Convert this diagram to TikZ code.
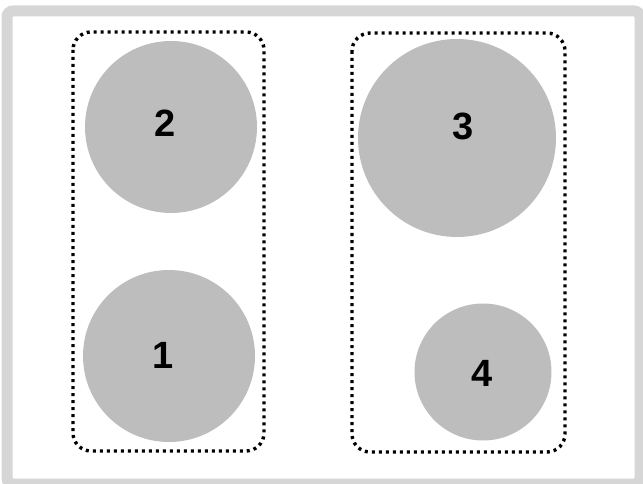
\documentclass[tikz,border=0pt]{standalone}
\usepackage{fontspec}
\setmainfont{Liberation Sans}
\usepackage{tikz}
\definecolor{platter}{gray}{0.74}
\definecolor{rim}{gray}{0.84}

\begin{document}
\begin{tikzpicture}[x=1pt,y=-1pt,
		burner/.style={circle,fill=platter,inner sep=0pt},
		zone/.style={line width=3.4pt,dash pattern=on 3pt off 4pt,rounded corners=18pt},
		num/.style={font=\fontsize{38}{40}\selectfont\bfseries}]
			\useasboundingbox (0,0) rectangle (643,484);
			% outer rim
			\draw[rim,line width=11pt,rounded corners=6pt] (7,11) rectangle (640,484);
			% left zone
			\draw[zone] (73,32) rectangle (264,451);
			\node[burner,minimum size=172pt] (b2) at (171,127) {};
			\node[burner,minimum size=172pt] (b1) at (169,356) {};
			% right zone
			\draw[zone] (352,33) rectangle (565,452);
			\node[burner,minimum size=198pt] (b3) at (457,138) {};
			\node[burner,minimum size=137pt] (b4) at (483,372) {};
			% numbers
			\node[num] (n2) at ([shift={(-6,-4)}]b2) {2};
			\node[num] (n1) at ([shift={(-6,-1)}]b1) {1};
			\node[num] (n3) at ([shift={(6,-12)}]b3) {3};
			\node[num] (n4) at ([shift={(-1,1)}]b4) {4};
		\end{tikzpicture}
\end{document}
